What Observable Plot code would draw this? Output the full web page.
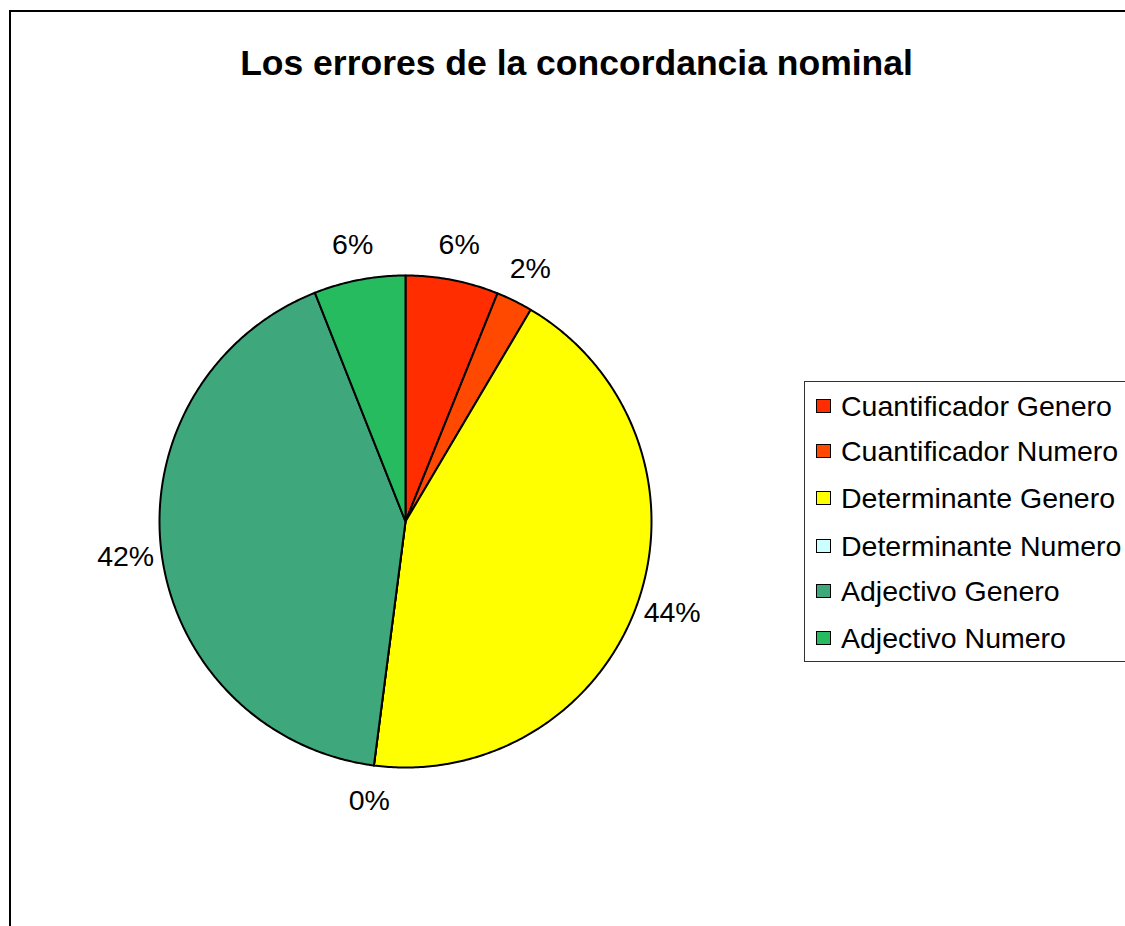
<!DOCTYPE html>
<html>
<head>
<meta charset="utf-8">
<script src="https://cdn.jsdelivr.net/npm/d3@7"></script>
<script src="https://cdn.jsdelivr.net/npm/@observablehq/plot@0.6"></script>
<style>
  html, body { margin: 0; padding: 0; background: #fff; overflow: hidden; }
  body { width: 1125px; height: 926px; position: relative; font-family: "Liberation Sans", Arial, sans-serif; }
  #border { position: absolute; left: 9px; top: 10px; width: 1300px; height: 1100px; border: 2px solid #000; box-sizing: border-box; }
  #chart { position: absolute; left: 0; top: 0; }
  #legend { position: absolute; left: 804px; top: 381px; width: 360px; height: 281px; border: 1px solid #333; box-sizing: border-box; background: #fff; }
  .row { position: absolute; left: 0; height: 30px; display: flex; align-items: center; font-size: 28.5px; color: #000; white-space: nowrap; }
  .sw { width: 15px; height: 14px; border: 1.5px solid #000; box-sizing: border-box; margin-left: 11px; margin-right: 10px; }
</style>
</head>
<body>
<div id="border"></div>
<div id="chart"></div>
<div id="legend"></div>
<script>
const categories = ["Cuantificador Genero", "Cuantificador Numero", "Determinante Genero", "Determinante Numero", "Adjectivo Genero", "Adjectivo Numero"];
const shares = [6.1, 2.4, 43.55, 0, 41.95, 6.0];
const colors = ["#FF2D00", "#FF4800", "#FFFF00", "#CCFFFF", "#3FA77C", "#27BB5F"];
const title = "Los errores de la concordancia nominal";

const W = 1125, H = 926;
const cx = 405, cy = 521, R = 246, RL = 282;
const total = d3.sum(shares);
const arcs = d3.pie().sort(null).value(d => d)(shares);

const polys = [];
arcs.forEach((a, i) => {
  polys.push({slice: i, x: cx, y: cy, color: colors[i]});
  const n = Math.max(2, Math.ceil((a.endAngle - a.startAngle) / 0.01));
  for (let k = 0; k <= n; k++) {
    const t = a.startAngle + (a.endAngle - a.startAngle) * k / n;
    polys.push({slice: i, x: cx + R * Math.sin(t), y: cy - R * Math.cos(t), color: colors[i]});
  }
});

const labels = arcs.map((a, i) => {
  const m = (a.startAngle + a.endAngle) / 2;
  return {x: cx + RL * Math.sin(m), y: cy - RL * Math.cos(m), text: Math.round(shares[i] / total * 100) + "%"};
});

const chart = Plot.plot({
  width: W, height: H, margin: 0,
  x: {domain: [0, W], range: [0, W], axis: null},
  y: {domain: [0, H], range: [0, H], axis: null},
  style: {background: "transparent", fontFamily: "'Liberation Sans', Arial, sans-serif"},
  marks: [
    Plot.line(polys, {x: "x", y: "y", z: "slice", fill: "color", stroke: "#000", strokeWidth: 2, curve: "linear-closed", strokeLinejoin: "round"}),
    Plot.text(labels, {x: "x", y: "y", text: "text", fontSize: 28.5, fill: "#000", textAnchor: "middle", lineAnchor: "middle"}),
    Plot.text([title], {frameAnchor: "top", dx: 13.5, dy: 63, text: d => d, fontSize: 35.5, fontWeight: "bold", fill: "#000", lineAnchor: "middle"})
  ]
});
document.getElementById("chart").appendChild(chart);

const legend = document.getElementById("legend");
const rowCenters = [24, 69, 116, 164, 209, 256];
categories.forEach((c, i) => {
  const row = document.createElement("div");
  row.className = "row";
  row.style.top = (rowCenters[i] - 15) + "px";
  const sw = document.createElement("div");
  sw.className = "sw";
  sw.style.background = colors[i];
  const tx = document.createElement("span");
  tx.textContent = c;
  row.appendChild(sw);
  row.appendChild(tx);
  legend.appendChild(row);
});
</script>
</body>
</html>
